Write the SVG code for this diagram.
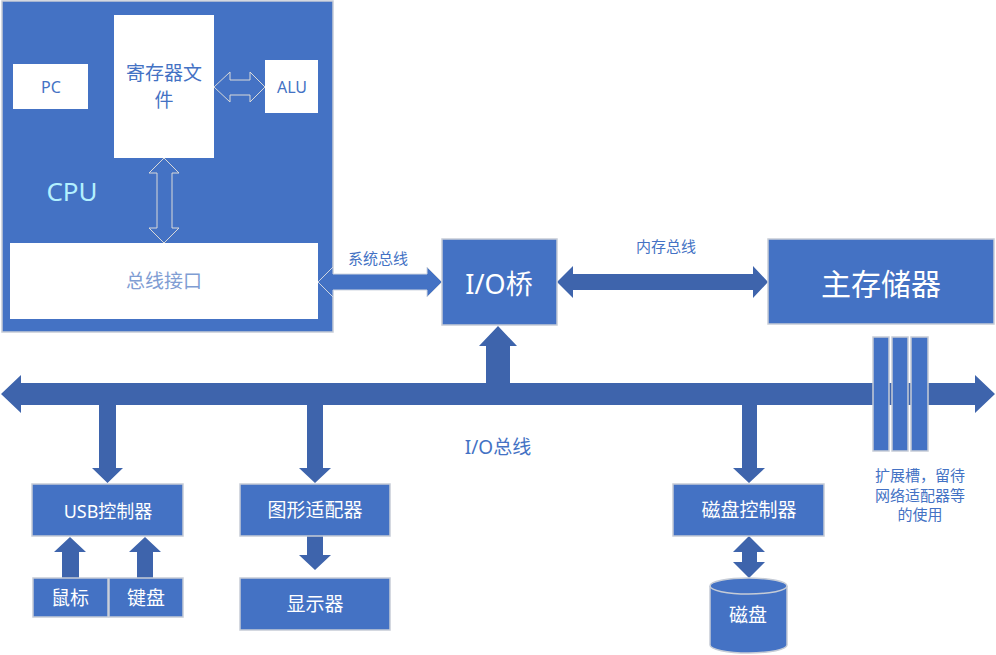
<svg xmlns="http://www.w3.org/2000/svg" width="996" height="655" viewBox="0 0 996 655">
<style>
.box{fill:#4472C4;stroke:#C6CCD6;stroke-width:1.5}
.wbox{fill:#FFFFFF;stroke:none}
.arr{fill:#3E64AC;stroke:none}
.oarr{fill:#4472C4;stroke:#D9D9D9;stroke-width:1}
.t{font-family:"Noto Sans","Noto Sans CJK SC",sans-serif;text-anchor:middle;dominant-baseline:central}
.w{fill:#FFFFFF}
.b{fill:#4472C4}
</style>
<rect width="996" height="655" fill="#FFFFFF"/>

<g id="cpu">
<rect x="2" y="1" width="331" height="331" class="box"/>
<text x="72" y="191" class="t" font-size="26" fill="#B3F0FF">CPU</text>
</g>
<g id="pc">
<rect x="13" y="64" width="75" height="45" class="wbox"/>
<text x="51" y="87" class="t b" font-size="16">PC</text>
</g>
<g id="regfile">
<rect x="114" y="15" width="100" height="143" class="wbox"/>
<text x="164" y="73" class="t b" font-size="19">寄存器文</text>
<text x="164" y="100" class="t b" font-size="19">件</text>
</g>
<g id="alu">
<rect x="265" y="60" width="53" height="53" class="wbox"/>
<text x="292" y="87" class="t b" font-size="16">ALU</text>
</g>
<g id="businterface">
<rect x="10" y="243" width="308" height="76" class="wbox"/>
<text x="164" y="281" class="t" font-size="19" fill="#7F9DD3">总线接口</text>
</g>

<g id="connectors">
<polygon class="oarr" points="214,87 230,72 230,80 250,80 250,72 265,87 250,102 250,95 230,95 230,102"/>
<polygon class="oarr" points="164,158 179,173 172,173 172,228 179,228 164,243 149,228 157,228 157,173 149,173"/>
<polygon fill="#4472C4" stroke="#D0D6E0" stroke-width="1" points="318,282 333,267 333,274 427,274 427,267 442,282 427,297 427,290 333,290 333,297"/>
<polygon class="arr" points="557,282 573,266 573,274 753,274 753,266 768,282 753,298 753,290 573,290 573,298"/>
<polygon class="arr" points="1,394 21,375 21,383 486,383 486,346 479,346 498,326 517,346 510,346 510,383 975,383 975,375 995,394 975,413 975,405 21,405 21,413"/>
<polygon class="arr" points="99,404 116,404 116,468 123,468 107.5,483 92,468 99,468"/>
<polygon class="arr" points="307,404 323,404 323,468 331,468 315,483 299,468 307,468"/>
<polygon class="arr" points="742,404 757,404 757,468 765,468 749,483 733,468 742,468"/>
<polygon class="arr" points="307,536 323,536 323,555 331,555 315,570 299,555 307,555"/>
<polygon class="arr" points="749,536 765,552 757,552 757,562 765,562 749,578 733,562 742,562 742,552 733,552"/>
<polygon class="arr" points="70,537 86,552 79,552 79,578 62,578 62,552 54,552"/>
<polygon class="arr" points="145,537 161,552 153,552 153,578 137,578 137,552 129,552"/>
</g>

<g id="labels">
<text x="378" y="258" class="t b" font-size="15">系统总线</text>
<text x="666" y="246" class="t b" font-size="15">内存总线</text>
<text x="498" y="447" class="t b" font-size="19">I/O总线</text>
<text x="920" y="475" class="t b" font-size="15">扩展槽，留待</text>
<text x="920" y="495" class="t b" font-size="15">网络适配器等</text>
<text x="920" y="514" class="t b" font-size="15">的使用</text>
</g>

<g id="iobridge">
<rect x="442" y="239" width="115" height="86" class="box"/>
<text x="499" y="283" class="t w" font-size="27">I/O桥</text>
</g>
<g id="mainmemory">
<rect x="768" y="239" width="226" height="85" class="box"/>
<text x="881" y="283" class="t w" font-size="30">主存储器</text>
</g>
<g id="slots">
<rect x="873" y="337" width="16" height="114" class="box"/>
<rect x="892" y="337" width="16" height="114" class="box"/>
<rect x="911" y="337" width="17" height="114" class="box"/>
</g>
<g id="usb">
<rect x="32" y="484" width="151" height="52" class="box"/>
<text x="108" y="511" class="t w" font-size="18">USB控制器</text>
</g>
<g id="mouse">
<rect x="33" y="578" width="75" height="39" class="box"/>
<text x="70" y="598" class="t w" font-size="19">鼠标</text>
</g>
<g id="keyboard">
<rect x="109" y="578" width="74" height="39" class="box"/>
<text x="146" y="598" class="t w" font-size="19">键盘</text>
</g>
<g id="graphics">
<rect x="240" y="484" width="150" height="52" class="box"/>
<text x="315" y="510" class="t w" font-size="19">图形适配器</text>
</g>
<g id="display">
<rect x="240" y="578" width="150" height="52" class="box"/>
<text x="315" y="604" class="t w" font-size="19">显示器</text>
</g>
<g id="diskcontroller">
<rect x="673" y="484" width="151" height="52" class="box"/>
<text x="749" y="510" class="t w" font-size="19">磁盘控制器</text>
</g>
<g id="disk">
<path d="M710,586 A38.5,8 0 0 1 787,586 V645 A38.5,8 0 0 1 710,645 Z" class="box"/>
<path d="M710,586 A38.5,8 0 0 0 787,586" fill="none" stroke="#C6CCD6" stroke-width="1.5"/>
<text x="748" y="615" class="t w" font-size="19">磁盘</text>
</g>
</svg>
